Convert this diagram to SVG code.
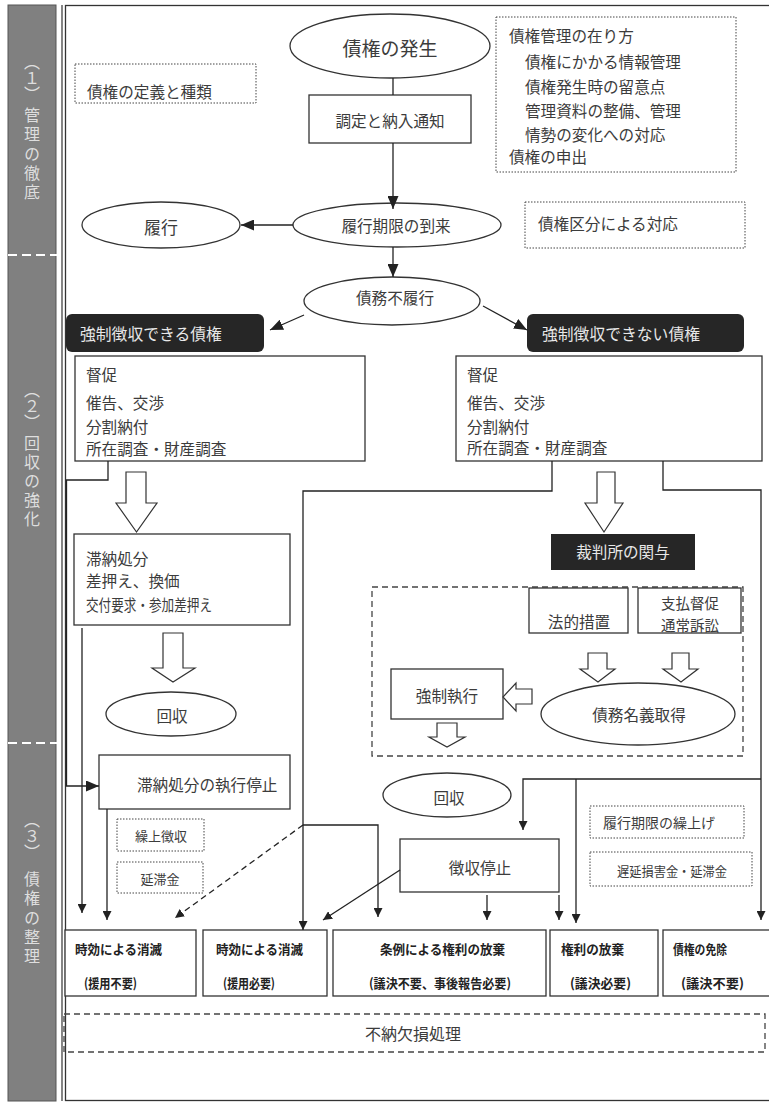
<svg xmlns="http://www.w3.org/2000/svg" width="769" height="1104" viewBox="0 0 769 1104">
<defs>
<style>
.t{font-family:"Noto Sans CJK JP","Noto Sans CJK SC",sans-serif;font-size:15.6px;fill:#3c3c3c;dominant-baseline:central}
.c{text-anchor:middle}
.w{fill:#e8e8e8}
.b{font-weight:bold;font-size:13px;fill:#222}
.s{font-size:13px}
.vb{font-family:"Noto Sans CJK JP",sans-serif;font-size:16px;fill:#dedede;writing-mode:vertical-rl}
.bx{fill:#fff;stroke:#333;stroke-width:1.3}
.dot{fill:none;stroke:#444;stroke-width:1;stroke-dasharray:1.5 1.5}
.dash{fill:none;stroke:#444;stroke-width:1.3;stroke-dasharray:6 4}
.ln{fill:none;stroke:#222;stroke-width:1.3}
.ha{fill:#fff;stroke:#333;stroke-width:1.2}
.blk{fill:#262626}
</style>
<marker id="ah" markerWidth="9" markerHeight="9" refX="9" refY="4.5" orient="auto" markerUnits="userSpaceOnUse"><path d="M0,0 L9,4.5 L0,9 z" fill="#222"/></marker>
<marker id="ahb" markerWidth="13" markerHeight="11" refX="13" refY="5.5" orient="auto" markerUnits="userSpaceOnUse"><path d="M0,0 L13,5.5 L0,11 z" fill="#222"/></marker>
</defs>
<rect width="769" height="1104" fill="#fff"/>

<!-- side band -->
<g id="band">
<rect x="8" y="5" width="48" height="1096" fill="#808080" stroke="#555" stroke-width="1"/>
<line x1="8" y1="255" x2="63" y2="255" stroke="#fff" stroke-width="2" stroke-dasharray="9 5"/>
<line x1="8" y1="743" x2="63" y2="743" stroke="#fff" stroke-width="2" stroke-dasharray="9 5"/>
<text class="vb" x="32" y="54">（１）</text>
<text class="vb" x="32" y="107" style="letter-spacing:3.3px">管理の徹底</text>
<text class="vb" x="32" y="382">（２）</text>
<text class="vb" x="32" y="435" style="letter-spacing:3px">回収の強化</text>
<text class="vb" x="32" y="812">（３）</text>
<text class="vb" x="32" y="871" style="letter-spacing:3.3px">債権の整理</text>
</g>

<!-- frame -->
<g id="frame">
<rect x="65.5" y="5.5" width="720" height="1095" fill="none" stroke="#333" stroke-width="1.3"/>
<line x1="62" y1="5" x2="62" y2="1101" stroke="#333" stroke-width="1.2"/>
</g>

<g id="n-teigi"><rect class="dot" x="75" y="64" width="181" height="39"/><text class="t" x="87" y="91">債権の定義と種類</text></g>
<g id="n-hassei"><ellipse class="bx" cx="390" cy="46" rx="100" ry="32"/><text class="t c" x="390" y="47" style="font-size:19px">債権の発生</text></g>
<g id="n-chotei"><rect class="bx" x="309" y="95" width="162" height="48"/><text class="t c" x="390" y="120">調定と納入通知</text></g>
<g id="n-arikata"><rect class="dot" x="496" y="17" width="240" height="155"/>
<text class="t" x="509" y="35">債権管理の在り方</text>
<text class="t" x="525" y="61">債権にかかる情報管理</text>
<text class="t" x="525" y="86">債権発生時の留意点</text>
<text class="t" x="525" y="110">管理資料の整備、管理</text>
<text class="t" x="525" y="134">情勢の変化への対応</text>
<text class="t" x="509" y="156">債権の申出</text></g>
<g id="n-rikou"><ellipse class="bx" cx="161" cy="225" rx="79" ry="23"/><text class="t c" x="161" y="226" style="font-size:17px">履行</text></g>
<g id="n-kigen"><ellipse class="bx" cx="397" cy="225" rx="104" ry="22"/><text class="t c" x="396" y="225">履行期限の到来</text></g>
<g id="n-kubun"><rect class="dot" x="525" y="202" width="220" height="46"/><text class="t" x="538" y="223">債権区分による対応</text></g>
<g id="n-furikou"><ellipse class="bx" cx="392" cy="301" rx="88" ry="24"/><text class="t c" x="395" y="297">債務不履行</text></g>
<g id="n-dekiru"><rect class="blk" x="66" y="314" width="198" height="38" rx="6"/><text class="t w" x="80" y="333" style="font-size:15.8px">強制徴収できる債権</text></g>
<g id="n-dekinai"><rect class="blk" x="527" y="314" width="217" height="38" rx="6"/><text class="t w" x="542" y="333" style="font-size:15.8px">強制徴収できない債権</text></g>
<g id="n-tokusoku-l"><rect class="bx" x="75" y="356" width="290" height="105"/>
<text class="t" x="86" y="374">督促</text><text class="t" x="86" y="402">催告、交渉</text><text class="t" x="86" y="426">分割納付</text><text class="t" x="86" y="448">所在調査・財産調査</text></g>
<g id="n-tokusoku-r"><rect class="bx" x="456" y="356" width="306" height="105"/>
<text class="t" x="467" y="374">督促</text><text class="t" x="467" y="402">催告、交渉</text><text class="t" x="467" y="426">分割納付</text><text class="t" x="467" y="447">所在調査・財産調査</text></g>
<g id="n-tainou"><rect class="bx" x="74" y="534" width="216" height="91"/>
<text class="t" x="86" y="558">滞納処分</text><text class="t" x="86" y="580">差押え、換価</text><text class="t" x="86" y="604" textLength="126" lengthAdjust="spacingAndGlyphs">交付要求・参加差押え</text></g>
<g id="n-kaishu-l"><ellipse class="bx" cx="171" cy="714" rx="65" ry="22"/><text class="t c" x="172" y="715">回収</text></g>
<g id="n-saibansho"><rect class="blk" x="551" y="534" width="144" height="36"/><text class="t w c" x="623" y="551">裁判所の関与</text></g>
<g id="n-houteki-area"><rect class="dash" x="372" y="587" width="371" height="169"/></g>
<g id="n-houteki"><rect class="bx" x="529" y="588" width="99" height="45"/><text class="t c" x="579" y="621">法的措置</text></g>
<g id="n-shiharai"><rect class="bx" x="638" y="588" width="103" height="45"/><text class="t c" x="690" y="602" style="font-size:14.5px">支払督促</text><text class="t c" x="690" y="624" style="font-size:14.5px">通常訴訟</text></g>
<g id="n-meigi"><ellipse class="bx" cx="638" cy="714" rx="97" ry="31"/><text class="t c" x="639" y="714">債務名義取得</text></g>
<g id="n-kyousei"><rect class="bx" x="391" y="669" width="112" height="50"/><text class="t c" x="447" y="695">強制執行</text></g>
<g id="n-kaishu-r"><ellipse class="bx" cx="447" cy="795" rx="64" ry="22"/><text class="t c" x="449" y="797">回収</text></g>
<g id="n-teishi"><rect class="bx" x="99" y="755" width="191" height="54"/><text class="t" x="137" y="784">滞納処分の執行停止</text></g>
<g id="n-kuriage"><rect class="dot" x="117" y="819" width="87" height="32"/><text class="t c s" x="161" y="835">繰上徴収</text></g>
<g id="n-entai"><rect class="dot" x="117" y="862" width="86" height="31"/><text class="t c s" x="160" y="878">延滞金</text></g>
<g id="n-choshu-teishi"><rect class="bx" x="400" y="839" width="159" height="53"/><text class="t c" x="480" y="867">徴収停止</text></g>
<g id="n-kigen-kuriage"><rect class="dot" x="590" y="806" width="154" height="32"/><text class="t" x="603" y="822" style="font-size:14px">履行期限の繰上げ</text></g>
<g id="n-chien"><rect class="dot" x="590" y="852" width="162" height="34"/><text class="t" x="617" y="870" textLength="110" lengthAdjust="spacingAndGlyphs" style="font-size:13px">遅延損害金・延滞金</text></g>

<g id="n-b1"><rect class="bx" x="65" y="930" width="131" height="66"/><text class="t b" x="75" y="948" textLength="87" lengthAdjust="spacingAndGlyphs">時効による消滅</text><text class="t b" x="84" y="982" textLength="53" lengthAdjust="spacingAndGlyphs">(援用不要)</text></g>
<g id="n-b2"><rect class="bx" x="203" y="930" width="124" height="66"/><text class="t b" x="216" y="948" textLength="87" lengthAdjust="spacingAndGlyphs">時効による消滅</text><text class="t b" x="223" y="982" textLength="52" lengthAdjust="spacingAndGlyphs">(援用必要)</text></g>
<g id="n-b3"><rect class="bx" x="333" y="930" width="213" height="66"/><text class="t b" x="380" y="948" textLength="125" lengthAdjust="spacingAndGlyphs">条例による権利の放棄</text><text class="t b" x="369" y="982" textLength="142" lengthAdjust="spacingAndGlyphs">(議決不要、事後報告必要)</text></g>
<g id="n-b4"><rect class="bx" x="550" y="930" width="108" height="66"/><text class="t b" x="561" y="948" textLength="63" lengthAdjust="spacingAndGlyphs">権利の放棄</text><text class="t b" x="570" y="982" textLength="61" lengthAdjust="spacingAndGlyphs">(議決必要)</text></g>
<g id="n-b5"><rect class="bx" x="663" y="930" width="110" height="66"/><text class="t b" x="673" y="948" textLength="54" lengthAdjust="spacingAndGlyphs">債権の免除</text><text class="t b" x="681" y="982" textLength="63" lengthAdjust="spacingAndGlyphs">(議決不要)</text></g>
<g id="n-funo"><rect class="dash" x="64" y="1014" width="701" height="38"/><text class="t c" x="413" y="1033" style="font-size:16px">不納欠損処理</text></g>

<g id="connectors">
<line class="ln" x1="393" y1="78" x2="393" y2="95"/>
<line class="ln" x1="393" y1="143" x2="393" y2="209" marker-end="url(#ahb)"/>
<line class="ln" x1="293" y1="225" x2="241" y2="225" marker-end="url(#ahb)"/>
<line class="ln" x1="393" y1="247" x2="393" y2="277" marker-end="url(#ahb)"/>
<line class="ln" x1="304" y1="315" x2="270" y2="330" marker-end="url(#ahb)"/>
<line class="ln" x1="483" y1="306" x2="527" y2="330" marker-end="url(#ahb)"/>
<polyline class="ln" points="108,461 108,480 66.5,480 66.5,786 99,786" marker-end="url(#ahb)"/>
<line class="ln" x1="82" y1="628" x2="82" y2="913" marker-end="url(#ah)"/>
<line class="ln" x1="107" y1="809" x2="107" y2="920" marker-end="url(#ah)"/>
<polyline class="ln" points="552,461 552,491 303,491 303,930" marker-end="url(#ah)"/>
<line class="ln" x1="303" y1="825" x2="175" y2="918" stroke-dasharray="6 4" marker-end="url(#ah)"/>
<polyline class="ln" points="303,825 378,825 378,917" marker-end="url(#ah)"/>
<polyline class="ln" points="663,461 663,490 761,490 761,920" marker-end="url(#ah)"/>
<polyline class="ln" points="761,779 523,779 523,830" marker-end="url(#ah)"/>
<line class="ln" x1="576" y1="779" x2="576" y2="923" marker-end="url(#ah)"/>
<line class="ln" x1="400" y1="870" x2="323" y2="920" marker-end="url(#ah)"/>
<line class="ln" x1="487" y1="895" x2="487" y2="920" marker-end="url(#ah)"/>
<line class="ln" x1="559" y1="895" x2="559" y2="920" marker-end="url(#ah)"/>
<polygon class="ha" points="126,472 146,472 146,503 157,503 136.5,532 116,503 126,503"/>
<polygon class="ha" points="163,633 183,633 183,668 195,668 173,682 152,668 163,668"/>
<polygon class="ha" points="597,472 615,472 615,503 623,503 604,532 585,503 597,503"/>
<polygon class="ha" points="588,653 607,653 607,669 615,669 598,682 580,669 588,669"/>
<polygon class="ha" points="672,653 689,653 689,669 698,669 681,682 663,669 672,669"/>
<polygon class="ha" points="532,689 532,704 516,704 516,711 503,697 516,683 516,689"/>
<polygon class="ha" points="437,723 457,723 457,737 465,737 447,747 429,737 437,737"/>
</g>
</svg>
